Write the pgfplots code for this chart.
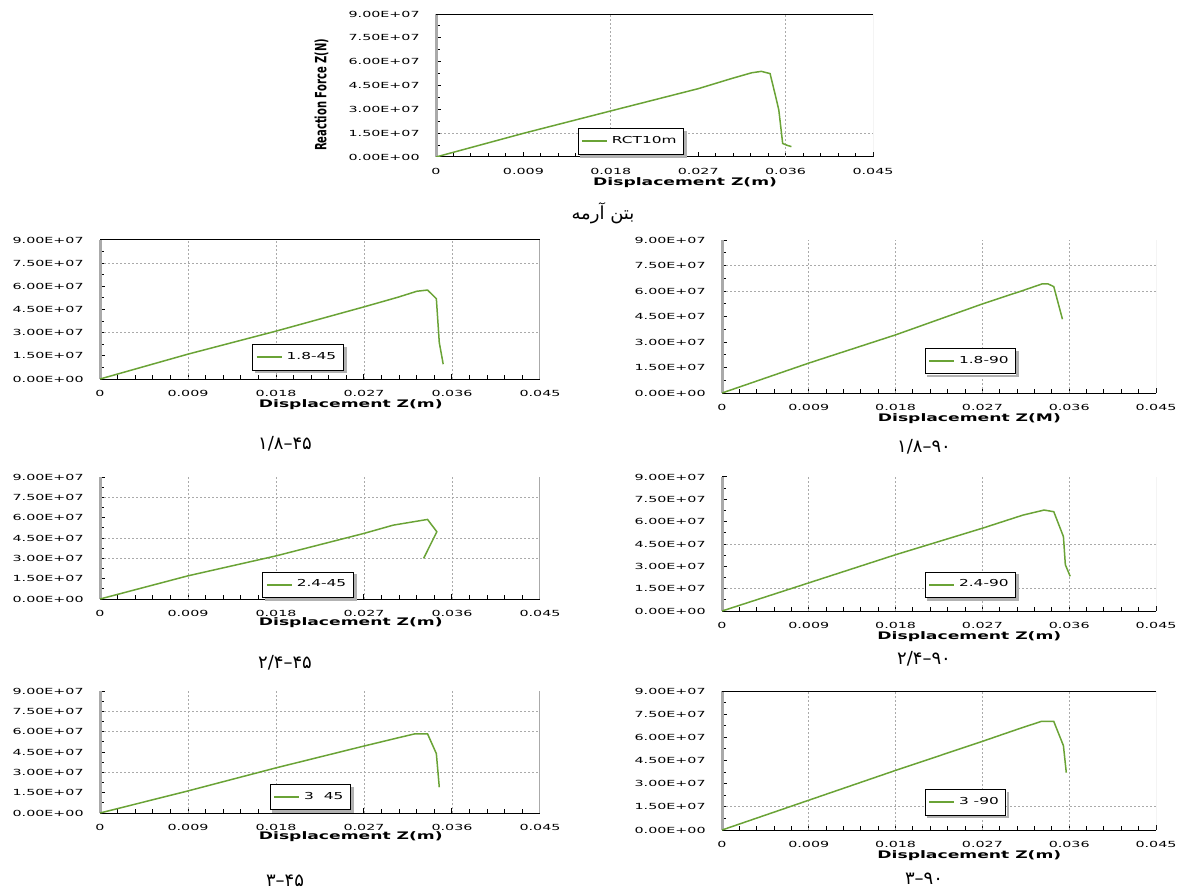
\documentclass[border=0pt]{standalone}
\usepackage{fontspec}
\usepackage{graphicx}
\usepackage{pgfplots}
\pgfplotsset{compat=1.18}
\setmainfont{DejaVu Sans}
\newfontfamily\arabicfont[Script=Arabic]{DejaVu Sans}
\TeXXeTstate=1
\definecolor{linecol}{RGB}{106,163,54}
\definecolor{axgray}{RGB}{170,170,170}
\definecolor{gridcol}{RGB}{170,170,170}
\newcommand\tkl[1]{\scalebox{1.7}[1]{#1}}
\newcommand\lgt[1]{\scalebox{1.6}[1]{#1}}
\newcommand\xlab[1]{\scalebox{1.65}[1]{\bfseries #1}}
\newcommand\tkfont{\fontsize{4.2}{5}\selectfont}
\tikzset{gridl/.style={gridcol, line width=0.4pt, dash pattern=on 1pt off 1pt},
  curve/.style={linecol, line width=0.75pt, mark=none}}
\pgfplotsset{
  panel/.style={
    scale only axis, anchor=south west,
    xmin=0, xmax=0.045, ymin=0, ymax=9e7,
    axis lines=left,
    axis line style={-},
    x axis line style={black, line width=0.5pt},
    y axis line style={draw=axgray, line width=1.5pt},
    xtick={0,0.009,0.018,0.027,0.036,0.045},
    xticklabels={\tkl{0},\tkl{0.009},\tkl{0.018},\tkl{0.027},\tkl{0.036},\tkl{0.045}},
    ytick={0,1.5e7,3e7,4.5e7,6e7,7.5e7,9e7},
    yticklabels={\tkl{0.00E+00},\tkl{1.50E+07},\tkl{3.00E+07},\tkl{4.50E+07},\tkl{6.00E+07},\tkl{7.50E+07},\tkl{9.00E+07}},
    scaled ticks=false,
    minor x tick num=4, minor y tick num=1,
    tick align=inside,
    major tick length=2.5pt, minor tick length=2pt,
    tick style={black, line width=0.5pt},
    xticklabel style={font=\tkfont, inner sep=0pt, anchor=north, yshift=-5.5pt},
    yticklabel style={font=\tkfont, inner sep=0pt, anchor=east, xshift=-8pt},
    xlabel style={font=\fontsize{5.2}{6}\selectfont, at={(axis description cs:0.57,0)}, anchor=center, yshift=-13pt},
    legend style={draw=black, line width=0.4pt, fill=white, font=\fontsize{4.8}{5.5}\selectfont,
      inner xsep=1.5pt, inner ysep=1.8pt, anchor=north west},
    legend cell align=left,
    legend image code/.code={\draw[#1, line width=1pt] (0pt,0pt) -- (12.5pt,0pt);},
  },
}
\newcommand\vgrid[1]{\pgfplotsinvokeforeach{#1}{\draw[gridl] (axis cs:##1,0) -- (axis cs:##1,9e7);}}
\newcommand\hgrid[1]{\pgfplotsinvokeforeach{#1}{\draw[gridl] (axis cs:0,##1) -- (axis cs:0.045,##1);}}
\newcommand\topborder{\draw[black, line width=0.5pt] (rel axis cs:0,1) -- (rel axis cs:1,1);}
\newcommand\rightborder{\draw[axgray, line width=0.5pt] (rel axis cs:1,0) -- (rel axis cs:1,1);}
\newcommand\legshadow[1]{%
  \fill[black!30] ([xshift=1.3pt,yshift=-0.2pt]#1.south west) rectangle ([xshift=1.3pt,yshift=-1.5pt]#1.south east);
  \fill[black!30] ([xshift=0.2pt,yshift=-1.3pt]#1.north east) rectangle ([xshift=1.5pt,yshift=-1.5pt]#1.south east);}
\newcommand\pcap[2]{\node[font=\arabicfont\fontsize{9}{10}\selectfont] at (#1) {#2};}
\begin{document}
\begin{tikzpicture}
\useasboundingbox (0pt,0pt) rectangle (591pt,445.5pt);
% ---------- top: RCT10m ----------
\begin{axis}[panel, at={(218pt,367pt)}, width=218.5pt, height=71.5pt,
  xlabel={\xlab{Displacement Z(m)}},
  ylabel={\scalebox{1}[1.55]{\bfseries Reaction Force Z(N)}},
  ylabel style={font=\fontsize{5}{6}\selectfont, at={(axis description cs:-0.262,0.434)}, anchor=center},
  legend style={at={(0.324,0.2)}, name=L1}]
\vgrid{0.018,0.036}
\hgrid{1.5e7}
\topborder \rightborder
\addplot[curve] coordinates {(0,0) (0.009,1.49e7) (0.018,2.9e7) (0.027,4.3e7) (0.0305,4.95e7) (0.0325,5.3e7) (0.0335,5.39e7) (0.0344,5.25e7) (0.0349,4.0e7) (0.0353,2.96e7) (0.0357,0.85e7) (0.0361,0.75e7) (0.0366,0.65e7)};
\addlegendentry{\lgt{RCT10m}}
\end{axis}
\legshadow{L1}
% ---------- 1.8-45 ----------
\begin{axis}[panel, at={(50pt,256pt)}, width=220pt, height=69.5pt,
  xlabel={\xlab{Displacement Z(m)}},
  legend style={at={(0.346,0.25)}, name=L2}]
\vgrid{0.009,0.018,0.027,0.036}
\hgrid{3e7,7.5e7}
\topborder \rightborder
\addplot[curve] coordinates {(0,0) (0.009,1.61e7) (0.018,3.1e7) (0.027,4.67e7) (0.0305,5.3e7) (0.0324,5.68e7) (0.0335,5.76e7) (0.0344,5.2e7) (0.0347,2.36e7) (0.0351,0.96e7)};
\addlegendentry{\lgt{1.8-45}}
\end{axis}
\legshadow{L2}
% ---------- 1.8-90 ----------
\begin{axis}[panel, at={(361pt,249pt)}, width=217pt, height=76.5pt,
  xlabel={\xlab{Displacement Z(M)}},
  legend style={at={(0.467,0.294)}, name=L3}]
\vgrid{0.009,0.018,0.027,0.036}
\hgrid{6e7,7.5e7}
\rightborder
\addplot[curve] coordinates {(0,0) (0.009,1.76e7) (0.018,3.42e7) (0.027,5.24e7) (0.0312,6.03e7) (0.0332,6.42e7) (0.0338,6.42e7) (0.0344,6.26e7) (0.0353,4.34e7)};
\addlegendentry{\lgt{1.8-90}}
\end{axis}
\legshadow{L3}
% ---------- 2.4-45 ----------
\begin{axis}[panel, at={(50pt,146pt)}, width=220pt, height=61pt,
  xlabel={\xlab{Displacement Z(m)}},
  xlabel style={yshift=1pt},
  legend style={at={(0.369,0.224)}, name=L4}]
\vgrid{0.009,0.018,0.027,0.036}
\hgrid{3e7,4.5e7,7.5e7}
\rightborder
\addplot[curve] coordinates {(0,0) (0.009,1.71e7) (0.018,3.18e7) (0.027,4.84e7) (0.030,5.45e7) (0.0335,5.87e7) (0.03445,4.96e7) (0.0331,3.0e7)};
\addlegendentry{\lgt{2.4-45}}
\end{axis}
\legshadow{L4}
% ---------- 2.4-90 ----------
\begin{axis}[panel, at={(361pt,140pt)}, width=217pt, height=67pt,
  xlabel={\xlab{Displacement Z(m)}},
  legend style={at={(0.467,0.293)}, name=L5}]
\vgrid{0.009,0.018,0.027,0.036}
\hgrid{1.5e7,4.5e7}
\rightborder
\addplot[curve] coordinates {(0,0) (0.009,1.89e7) (0.018,3.78e7) (0.027,5.56e7) (0.0312,6.44e7) (0.0334,6.78e7) (0.0344,6.67e7) (0.0354,5.0e7) (0.0356,3.11e7) (0.0361,2.33e7)};
\addlegendentry{\lgt{2.4-90}}
\end{axis}
\legshadow{L5}
% ---------- 3-45 ----------
\begin{axis}[panel, at={(50pt,39pt)}, width=220pt, height=61pt,
  xlabel={\xlab{Displacement Z(m)}},
  xlabel style={yshift=1pt},
  legend style={at={(0.386,0.238)}, name=L6}]
\vgrid{0.009,0.018,0.027,0.036}
\hgrid{3e7,6e7,7.5e7}
\rightborder
\addplot[curve] coordinates {(0,0) (0.009,1.63e7) (0.018,3.33e7) (0.027,4.94e7) (0.0305,5.55e7) (0.0322,5.84e7) (0.0335,5.84e7) (0.0344,4.38e7) (0.0347,1.9e7)};
\addlegendentry{\lgt{3~~45}}
\end{axis}
\legshadow{L6}
% ---------- 3-90 ----------
\begin{axis}[panel, at={(361pt,30.5pt)}, width=217pt, height=69.5pt,
  xlabel={\xlab{Displacement Z(m)}},
  legend style={at={(0.467,0.293)}, name=L7}]
\vgrid{0.009,0.018,0.027,0.036}
\hgrid{1.5e7}
\topborder \rightborder
\addplot[curve] coordinates {(0,0) (0.009,1.93e7) (0.018,3.86e7) (0.027,5.74e7) (0.031,6.6e7) (0.0331,7.03e7) (0.0344,7.03e7) (0.0354,5.46e7) (0.0357,3.71e7)};
\addlegendentry{\lgt{3 -90}}
\end{axis}
\legshadow{L7}
% ---------- captions ----------
\pcap{301.5pt,339pt}{\beginR بتن آرمه\endR}
\pcap{142.5pt,223.5pt}{۴۵–۱/۸}
\pcap{462pt,222pt}{۹۰–۱/۸}
\pcap{142.5pt,114pt}{۴۵–۲/۴}
\pcap{462pt,116pt}{۹۰–۲/۴}
\pcap{142.5pt,5pt}{۴۵–۳}
\pcap{462pt,6pt}{۹۰–۳}
\end{tikzpicture}
\end{document}
